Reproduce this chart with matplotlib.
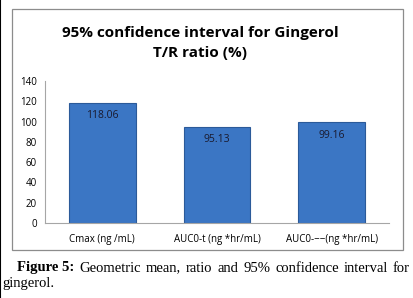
import matplotlib.pyplot as plt
from matplotlib.patches import Rectangle
from matplotlib.lines import Line2D

# --- Data ---
categories = ['Cmax (ng /mL)', 'AUC0-t (ng *hr/mL)', 'AUC0-\u2212\u2212(ng *hr/mL)']
values = [118.06, 95.13, 99.16]
yticks = [0, 20, 40, 60, 80, 100, 120, 140]
caption_words = 'Geometric mean, ratio and 95% confidence interval for'.split()

fig = plt.figure(figsize=(4.14, 2.98), dpi=100)
W, H = 414, 298

# chart frame (Excel-style box)
fig.patches.append(Rectangle((12 / W, 1 - 250 / H), (403 - 12) / W, (250 - 9) / H,
                             transform=fig.transFigure, fill=False,
                             edgecolor='#8c8c8c', linewidth=0.9))
# black line at the very left edge of the page crop
fig.lines.append(Line2D([0.5 / W, 0.5 / W], [0, 1], transform=fig.transFigure,
                        color='black', linewidth=1.5))

ax = fig.add_axes([45 / W, 1 - 223 / H, (389 - 45) / W, (223 - 81) / H])
x = range(len(categories))
bars = ax.bar(x, values, width=0.58, color='#3b76c4', edgecolor='#2b5a99', linewidth=0.8)

for b, v in zip(bars, values):
    ax.text(b.get_x() + b.get_width() / 2, v - 12.5, f'{v:.2f}',
            ha='center', va='center', fontsize=7.5, family='Open Sans', color='#1a1a2e')

ax.set_ylim(0, 140)
ax.set_xlim(-0.5, 2.5)
ax.set_yticks(yticks)
ax.set_yticklabels([str(t) for t in yticks], fontsize=7, family='Open Sans')
ax.set_xticks(list(x))
ax.set_xticklabels(categories, fontsize=7, family='Open Sans')
ax.tick_params(axis='both', length=0, pad=6)
ax.tick_params(axis='x', pad=8)
for side in ['top', 'right']:
    ax.spines[side].set_visible(False)
for side in ['left', 'bottom']:
    ax.spines[side].set_color('#a6a6a6')
    ax.spines[side].set_linewidth(0.8)

fig.text(200 / W, 1 - 43 / H, '95% confidence interval for Gingerol\nT/R ratio (%)',
         ha='center', va='center', fontsize=11, fontweight='bold', family='Open Sans',
         linespacing=1.5)

# caption below the chart box, first line justified word by word
cap_y = 1 - 268 / H
fs = 10.5
lab = fig.text(17 / W, cap_y, 'Figure 5:', ha='left', va='center', fontsize=fs,
               fontweight='bold', family='Liberation Serif')
fig.canvas.draw()
r = fig.canvas.get_renderer()
start = lab.get_window_extent(r).x1
end = 410
word_txt = [fig.text(0, cap_y, w, ha='left', va='center', fontsize=fs,
                     family='Liberation Serif') for w in caption_words]
widths = [t.get_window_extent(r).width for t in word_txt]
gap = (end - start - sum(widths)) / len(caption_words)
pos = start + gap
for t, w in zip(word_txt, widths):
    t.set_x(pos / W)
    pos += w + gap
fig.text(2 / W, 1 - 284 / H, 'gingerol.', ha='left', va='center', fontsize=fs,
         family='Liberation Serif')

fig.savefig('out.png', dpi=100)
